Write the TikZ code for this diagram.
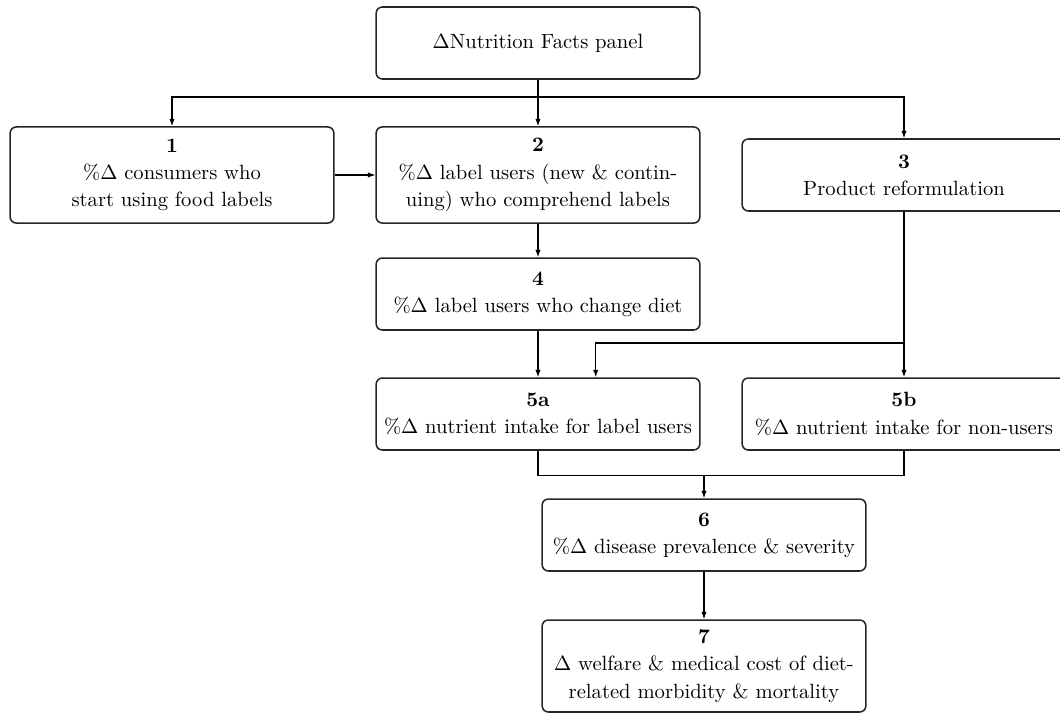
\documentclass[tikz,border=0pt]{standalone}
\usetikzlibrary{arrows.meta}
\begin{document}
\begin{tikzpicture}[x=0.485pt,y=-0.485pt,
  box/.style={draw=black!85,line width=0.75pt,rounded corners=3pt,align=center,
    minimum width=157pt,inner sep=2pt,font=\fontsize{10}{13.2}\selectfont},
  onel/.style={box,minimum height=34.9pt},
  twol/.style={box,minimum height=46.6pt},
  arr/.style={-{Latex[length=3.6pt,width=2.6pt]},line width=0.5pt},
  ln/.style={line width=0.5pt}]
\useasboundingbox (0,0) rectangle (1060,715);
\clip (0,0) rectangle (1060,715);
\node[onel] (top) at (538,43) {$\Delta$Nutrition Facts panel};
\node[twol] (b1) at (172,175) {\textbf{1}\\\%$\Delta$ consumers who\\start using food labels};
\node[twol] (b2) at (538,175) {\textbf{2}\\\%$\Delta$ label users (new \& contin-\\uing) who comprehend labels};
\node[onel] (b3) at (904,175) {\textbf{3}\\Product reformulation};
\node[onel] (b4) at (538,294) {\textbf{4}\\\%$\Delta$ label users who change diet};
\node[onel] (b5a) at (538,414) {\textbf{5a}\\\%$\Delta$ nutrient intake for label users};
\node[onel] (b5b) at (904,414) {\textbf{5b}\\\%$\Delta$ nutrient intake for non-users};
\node[onel] (b6) at (704,535) {\textbf{6}\\\%$\Delta$ disease prevalence \& severity};
\node[box,minimum height=44.6pt] (b7) at (704,666) {\textbf{7}\\$\Delta$ welfare \& medical cost of diet-\\related morbidity \& mortality};
\coordinate (s) at (538,97);
\coordinate (br) at (904,343);
\coordinate (m) at (704,475);
\draw[arr] (top.south) -- (b2.north);
\draw[arr] (s) -| (b1.north);
\draw[arr] (s) -| (b3.north);
\draw[arr] (b1.east) -- (b2.west);
\draw[arr] (b2.south) -- (b4.north);
\draw[arr] (b4.south) -- (b5a.north);
\draw[arr] (b3.south) -- (b5b.north);
\draw[arr] (br) -| ([xshift=28pt]b5a.north);
\draw[ln] (b5a.south) -- ++(0,25) -| (b5b.south);
\draw[arr] (m) -- (b6.north);
\draw[arr] (b6.south) -- (b7.north);
\end{tikzpicture}
\end{document}
